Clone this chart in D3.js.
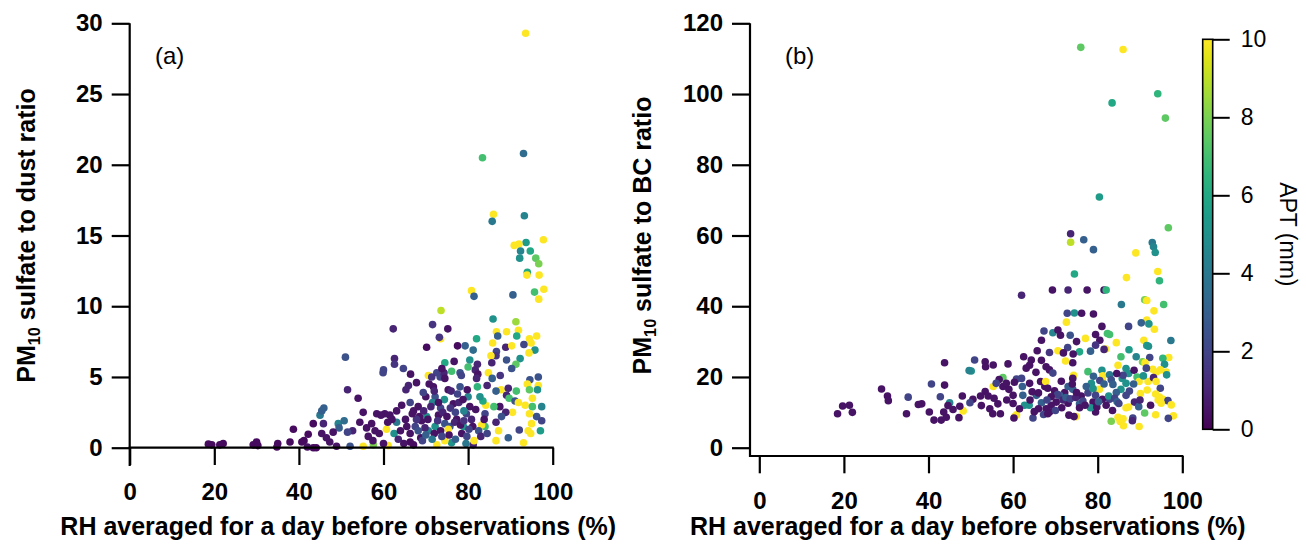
<!DOCTYPE html>
<html>
<head>
<meta charset="utf-8">
<script src="https://cdn.jsdelivr.net/npm/d3@7"></script>
<style>
  html, body { margin: 0; padding: 0; background: #fff; }
  svg { display: block; font-family: "Liberation Sans", Arial, sans-serif; }
</style>
</head>
<body>
<svg id="chart" width="1306" height="548"></svg>
<script>
// Panel (a): [RH (%), PM10 sulfate / dust ratio, APT (mm)]
const dustPoints = [
  [93.6,29.3,10],[93.1,20.8,3.5],[83.4,20.5,7],[86.0,16.5,10],[85.7,16.0,4],[93.3,16.4,4.5],
  [97.8,14.7,10],[93.7,14.5,5.5],[90.9,14.3,10],[92.0,14.4,10],[92.4,13.9,4.5],[94.7,13.9,6],
  [92.2,13.4,5],[96.0,13.4,7.5],[96.7,13.0,8],[94.0,12.4,6],[93.9,12.2,10],[96.8,12.2,10],
  [97.9,11.2,10],[95.7,11.0,7],[80.8,11.1,10],[81.4,10.7,3],[90.6,10.8,3],[96.7,10.5,10],
  [73.6,9.7,9],[85.9,9.1,5],[91.3,8.9,8.5],[62.3,8.4,1],[71.6,8.7,1.5],[75.2,8.4,0.5],
  [73.5,7.7,10],[73.2,7.8,1.5],[86.7,8.2,10],[89.1,8.2,10],[91.9,8.3,10],[87.0,7.9,3],
  [91.5,7.9,6],[96.2,7.9,10],[82.0,7.7,6],[85.8,7.4,10],[94.5,7.7,10],[94.9,7.4,10],
  [79.3,7.2,3],[77.5,7.2,0.3],[70.2,7.1,0.3],[81.2,6.9,3.5],[88.9,7.1,1],[90.3,7.2,10],
  [93.2,7.3,2],[95.8,6.9,5],[94.4,6.7,10],[86.7,6.8,2],[86.6,6.5,1.5],[85.4,6.5,10],
  [89.1,6.2,2.5],[92.3,6.3,5],[91.3,5.9,7.5],[90.3,5.6,2.5],[85.6,6.0,1],[82.2,5.9,1],
  [81.7,5.5,1],[80.0,5.7,7],[80.4,6.2,5],[78.1,5.3,2.5],[78.4,5.1,2],[82.3,5.2,0.5],
  [82.0,4.9,1],[76.1,5.4,7],[74.5,6.0,6],[76.7,6.1,0.5],[51.0,6.4,2.5],[62.6,6.3,1],
  [62.6,5.9,1.5],[60.0,5.5,2],[59.9,5.3,2],[64.7,5.6,2],[66.4,5.2,0.5],[67.8,4.6,0.5],
  [65.9,4.4,1],[65.3,4.1,1],[70.6,5.1,10],[72.6,5.3,2],[73.4,5.0,2],[74.3,5.3,1],
  [74.5,4.9,0.5],[73.8,5.6,0.5],[71.4,5.0,1.5],[84.8,5.3,10],[85.7,4.9,3],[87.6,5.1,1.5],
  [96.6,5.0,2.5],[94.6,4.8,2.5],[94.0,4.5,10],[96.6,4.4,10],[96.4,4.1,5],[94.5,4.1,7.5],
  [84.5,4.4,1],[87.8,4.1,10],[86.6,4.0,3],[89.5,4.2,1],[91.4,4.0,7],[89.1,3.7,1],
  [89.7,3.5,7],[91.1,3.3,2.5],[91.9,3.2,10],[93.5,3.0,10],[95.2,3.5,10],[97.4,2.9,4.5],
  [95.2,2.9,7],[90.5,2.5,10],[94.5,2.4,10],[96.2,2.2,2.5],[97.4,1.9,2],[95.0,1.7,10],
  [97.1,1.2,5.5],[94.2,1.2,10],[94.8,1.0,10],[93.1,0.35,10],[89.5,0.7,3],[92.1,1.25,2],
  [88.9,2.5,1],[87.9,2.2,2.5],[86.6,1.8,1],[86.6,0.5,10],[87.2,1.2,10],[87.5,2.9,0.5],
  [84.0,1.5,7],[84.2,3.0,10],[84.0,2.4,2],[86.1,2.9,7],[83.2,1.6,10],[83.5,3.3,6],
  [81.2,0.2,1],[81.4,0.5,10],[82.2,4.3,6.5],[82.8,3.6,5],[80.0,3.6,4.5],[78.1,4.3,2.5],
  [79.8,4.1,0.5],[80.4,2.9,0.5],[79.6,2.4,2],[79.0,2.6,4.5],[77.3,2.0,0.5],[75.7,1.5,2.5],
  [76.5,3.1,0.5],[74.4,3.4,5],[75.3,4.1,0.5],[71.8,4.3,0.5],[72.2,3.6,2.5],[71.6,3.2,4.5],
  [70.0,3.6,0.5],[69.4,3.9,2],[68.2,2.9,0.5],[67.1,2.6,0.5],[66.3,3.2,2],[64.3,3.0,0.5],
  [63.1,2.6,0.5],[61.5,2.3,0.5],[60.3,2.4,0.5],[58.4,2.4,0.5],[59.4,2.3,0.5],[63.1,1.8,4],
  [62.5,1.0,5],[60.7,1.3,10],[65.5,1.5,0.5],[66.3,1.0,0.5],[67.5,1.5,2],[68.2,1.2,2.5],
  [69.0,1.9,0.5],[70.2,2.2,5],[70.6,1.2,4.5],[72.2,1.5,5],[73.0,2.3,0.5],[73.5,2.8,2],
  [74.5,1.7,2.5],[75.3,1.3,10],[76.1,0.35,5],[72.6,0.2,10],[74.5,0.5,10],[78.5,1.0,0.5],
  [78.9,1.5,5],[79.7,0.8,2],[81.1,1.5,0.5],[67.1,0.2,0.3],[66.3,0.4,0.3],[57.6,0.2,8],
  [61.1,0.15,10],[55.2,0.1,10],[56.4,0.8,0.5],[56.0,1.4,0.5],[57.2,1.7,0.5],[54.4,1.8,0.5],
  [54.0,3.5,0.5],[55.2,2.5,0.5],[51.5,4.1,1],[52.7,1.2,1],[51.5,1.1,2],[52.1,0.1,2.5],
  [49.3,1.7,4.5],[49.5,1.4,3],[50.7,1.9,3.5],[48.1,1.1,0.5],[48.9,0.1,0.5],[47.3,0.4,0.5],
  [46.5,0.7,0.5],[45.4,1.0,0.5],[45.8,1.7,1],[45.0,2.3,4],[45.4,2.6,3],[45.9,2.8,3],
  [43.4,1.7,0.3],[42.2,0.95,0.3],[41.2,0.5,0.3],[40.7,0.4,0.3],[43.4,0.0,0.3],[44.1,0.0,0.3],
  [42.0,0.05,0.5],[38.7,1.3,0.3],[37.9,0.4,0.3],[35.0,0.3,0.3],[34.8,0.05,0.3],[30.0,0.4,0.3],
  [29.2,0.2,0.3],[30.3,0.15,0.3],[22.1,0.3,0.3],[21.3,0.2,0.3],[19.4,0.2,0.3],[18.6,0.25,0.3],
  [68.5,2.2,0.5],[69.5,2.6,1],[70.5,2.0,0.5],[71.2,2.9,1],[72.0,1.0,0.5],[72.8,1.9,1.5],
  [73.5,1.2,0.5],[74.0,2.5,1],[75.0,2.2,0.5],[75.8,2.8,1.5],[76.8,1.8,1],[77.0,2.5,2],
  [77.8,3.2,1],[78.2,1.6,0.5],[79.0,1.9,1.5],[80.2,1.3,2],[80.8,2.0,1],[81.8,2.7,0.5],
  [82.5,1.2,2.5],[83.0,0.8,1],[83.8,2.0,0.5],[84.5,1.0,2],[76.0,4.0,1],[77.5,3.8,2],
  [78.8,3.4,0.5],[73.0,3.2,0.5],[72.0,4.0,1],[70.8,4.5,0.5],[69.8,1.4,1],[68.8,0.7,0.5],
  [67.8,2.0,1.5],[66.8,2.4,0.5],[65.2,2.0,0.5],[64.0,1.2,0.5],[63.5,0.6,1],[62.0,2.0,0.5],
  [61.0,1.8,0.5],[59.0,1.0,0.5],[58.0,1.2,0.5],[57.5,0.5,0.5],[60.0,0.3,0.5],[64.8,0.3,0.5],
  [69.2,0.5,2],[70.0,0.9,3],[71.5,0.6,4],[73.8,0.8,2],[75.5,0.9,0.5],[77.0,0.6,3],[79.5,0.3,4]
];

// Panel (b): [RH (%), PM10 sulfate / BC ratio, APT (mm)]
const bcPoints = [
  [76.0,113.2,7.5],[86.0,112.6,10],[94.2,100.1,6.5],[83.4,97.5,6],[96.0,93.2,7.5],[80.4,70.9,5.5],
  [96.7,62.2,7.5],[73.6,60.5,1],[76.7,58.8,3],[73.6,58.1,9],[79.0,56.0,3],[92.9,58.0,4],
  [93.2,56.8,4.5],[93.6,55.2,5],[89.0,55.1,10],[94.2,49.8,10],[94.6,47.2,6.5],[74.5,49.1,6],
  [86.8,48.1,10],[62.0,43.1,1],[69.3,44.6,0.5],[73.0,44.6,1],[77.5,44.6,0.5],[81.5,44.6,0.5],
  [82.0,44.6,6.5],[95.6,40.5,7],[85.6,40.5,4],[91.1,41.8,8],[91.6,41.6,10],[93.3,38.7,10],
  [72.8,38.0,2],[74.5,38.1,5],[76.2,38.0,0.5],[79.0,37.8,0.5],[72.6,35.5,10],[91.6,36.1,10],
  [92.1,35.0,5],[90.3,35.3,3],[93.4,33.5,10],[87.3,34.3,2],[81.0,34.3,0.5],[67.3,33.0,2],
  [69.4,32.5,4.5],[70.6,33.3,0.5],[71.2,31.8,0.5],[73.5,31.8,2.5],[79.5,32.0,0.5],[82.3,32.3,7],
  [82.8,32.0,7],[84.4,29.7,10],[80.5,30.4,0.5],[66.7,30.4,0.5],[77.1,30.9,10],[90.9,30.4,10],
  [91.6,28.9,5.5],[92.0,28.7,5],[97.3,30.3,4],[79.5,29.0,1.5],[81.9,27.9,10],[81.5,27.8,1],
  [87.4,27.7,5.5],[65.7,27.4,0.5],[68.6,26.9,1.5],[72.9,28.3,2],[70.6,27.4,10],[71.9,26.8,0.5],
  [75.7,27.1,6],[74.2,26.5,0.5],[78.3,27.3,3],[89.1,25.7,4.5],[92.3,25.5,2],[85.5,25.7,7],
  [96.8,25.5,10],[95.4,25.3,6.5],[90.6,24.3,8],[91.2,24.0,10],[95.8,23.6,5],[62.5,25.7,0.5],
  [64.3,24.8,0.5],[43.8,24.0,0.5],[50.9,24.8,2],[53.4,24.3,0.5],[53.5,22.9,0.5],[55.3,23.4,0.5],
  [58.8,23.7,0.5],[50.1,21.7,5],[49.6,21.8,4.5],[63.9,23.3,0.5],[66.7,24.7,0.5],[67.8,22.9,0.5],
  [68.6,22.0,0.5],[65.4,21.3,0.5],[63.1,22.5,0.5],[69.4,21.1,2],[77.7,21.5,7],[74.1,24.0,0.5],
  [72.4,24.5,10],[74.3,20.5,10],[74.1,19.6,0.5],[79.0,20.2,3],[81.0,21.9,5],[81.1,19.3,10],
  [81.2,20.3,10],[82.8,20.6,4],[83.2,19.2,2.5],[84.8,23.3,10],[85.8,19.6,5],[86.7,22.4,5],
  [87.3,21.0,5],[88.6,21.9,0.5],[89.3,20.0,7],[89.8,18.7,10],[91.9,18.7,10],[91.7,16.3,10],
  [90.1,15.3,10],[93.0,22.2,10],[93.8,21.3,10],[94.8,22.0,10],[96.2,21.4,10],[96.3,20.6,5],
  [93.2,19.8,1],[93.8,18.7,10],[94.8,16.8,2],[93.7,15.2,10],[94.3,13.5,10],[94.6,14.3,10],
  [95.4,13.7,10],[96.6,13.3,2],[97.4,12.1,10],[95.0,12.6,10],[93.7,9.3,10],[97.9,9.0,10],
  [96.7,8.3,2],[91.1,9.8,7.5],[89.8,6.0,10],[86.0,8.2,10],[84.8,8.6,10],[86.1,6.2,10],
  [85.3,7.4,10],[83.2,7.5,8],[86.7,11.3,10],[87.3,11.5,10],[88.3,8.4,2],[88.2,7.6,1],
  [88.7,12.9,1],[89.7,11.6,3],[86.7,14.8,2],[86.7,18.2,5],[85.5,16.5,5],[84.4,15.6,3],
  [82.8,13.7,2],[80.4,16.5,10],[78.5,18.2,5],[77.7,15.5,2],[78.9,12.9,0.5],[79.5,10.1,0.5],
  [78.3,11.3,5],[74.9,8.8,10],[74.4,8.8,0.5],[75.7,12.4,3],[74.1,16.5,3],[72.2,15.6,0.5],
  [71.0,14.8,3],[70.2,12.9,0.5],[69.0,12.0,0.5],[68.6,10.1,0.5],[67.8,11.0,0.5],[66.7,12.7,3],
  [65.5,14.8,3],[64.7,8.4,2],[66.0,11.0,0.5],[63.8,12.0,5],[62.7,12.0,5],[62.3,14.8,3],
  [60.8,9.3,10],[60.4,8.8,10],[60.2,8.4,0.5],[60.0,14.8,0.5],[59.0,16.5,0.5],[57.6,19.8,7.5],
  [56.7,19.3,0.5],[55.3,17.3,10],[57.6,17.3,0.5],[58.4,18.2,0.5],[56.0,18.2,2],[53.4,15.9,0.5],
  [52.3,14.6,0.5],[54.1,14.6,0.5],[56.4,12.4,0.5],[57.0,9.6,0.5],[55.2,9.6,0.5],[52.5,11.9,0.5],
  [50.5,13.7,0.5],[49.8,12.7,2],[48.0,14.6,0.5],[47.2,8.5,0.5],[48.2,10.4,10],[47.4,11.7,0.5],
  [45.8,10.8,0.5],[45.0,12.7,4.5],[44.6,11.9,0.5],[43.6,10.1,0.5],[43.0,7.8,0.5],[44.2,8.6,0.5],
  [41.3,7.8,0.5],[40.2,10.1,0.5],[42.8,14.4,2],[40.7,18.0,2],[43.8,17.7,0.5],[38.4,12.4,0.5],
  [37.6,12.2,0.5],[35.2,14.3,2],[34.8,9.6,0.5],[30.3,14.6,0.5],[30.5,13.3,0.5],[28.9,16.6,0.5],
  [19.7,11.8,0.5],[21.3,12.0,0.5],[18.5,9.6,0.5],[22.0,10.0,0.5],
  [60.8,19.4,2],[62.0,19.6,2],[62.2,17.3,3],[60.3,18.5,0.5],[63.9,18.2,0.5],[66.5,18.7,0.5],
  [67.5,17.3,0.5],[67.7,18.7,10],[68.2,16.8,0.5],[69.8,16.1,0.5],[71.4,18.8,0.5],[73.0,17.3,3],
  [74.0,18.0,0.5],[76.1,14.6,0.5],[77.3,17.3,3],[75.7,11.3,0.5],[73.0,12.6,0.5],[71.5,11.3,0.5],
  [70.0,10.5,2],[67.2,9.4,2],[68.2,9.6,0.5],[73.2,9.2,0.5],[79.8,11.5,0.5],[81.1,13.7,0.5],
  [82.0,12.0,0.5],[82.6,14.6,5],[78.9,16.7,5],[80.5,19.0,2],[81.5,18.0,3],[83.6,17.9,3],
  [84.0,14.0,2],[84.6,13.0,3],[70.5,15.0,2],[71.8,13.5,1],[72.5,14.2,3],[73.5,13.8,2],
  [74.8,14.2,1],[76.5,13.2,2],[77.0,12.0,0.5],[75.0,15.6,0.5],[69.0,14.4,0.5],[68.0,13.5,2],
  [66.0,15.5,0.5],[64.5,15.8,0.5],[64.0,13.5,0.5],[65.0,10.2,0.5],[61.5,11.0,0.5],[60.0,12.5,0.5],
  [58.5,13.5,0.5],[55.5,14.0,0.5],[54.5,11.0,0.5],[79.5,14.8,2],[80.2,13.0,3],[85.0,12.5,2],
  [83.5,10.5,0.5],[86.0,20.5,2],[84.5,21.0,0.5],[87.5,16.0,2],[88.5,18.0,3],[90.8,20.3,5],
  [91.5,22.5,2],[90.0,13.5,1],[92.5,12.0,0.5],[75.0,30.0,0.5]
];

const rhTicks = [0, 20, 40, 60, 80, 100];
const dustTicks = [0, 5, 10, 15, 20, 25, 30];
const bcTicks = [0, 20, 40, 60, 80, 100, 120];
const aptTicks = [0, 2, 4, 6, 8, 10];

const xTitle = "RH averaged for a day before observations (%)";
const panelLabels = ["(a)", "(b)"];

const svg = d3.select("#chart");
const color = d3.scaleSequential(d3.interpolateViridis).domain([0, 10]).clamp(true);

const TICK_FONT = 24, TITLE_FONT = 25, R = 3.8;

function panel(opts) {
  const { x, y, pts, yTicks, yTitleText, yTitleX, detached, label, labelX } = opts;
  const g = svg.append("g");
  const y0 = y.range()[0];
  const xAxisY = detached ? y0 + 8.3 : y0;
  const yAxisX = detached ? x.range()[0] - 9.3 : x.range()[0];

  // scatter marks, coloured by APT
  g.append("g").selectAll("circle").data(pts).join("circle")
    .attr("cx", d => x(d[0])).attr("cy", d => y(d[1])).attr("r", R)
    .attr("fill", d => color(d[2]));

  // y axis
  const ya = g.append("g").attr("transform", `translate(${yAxisX},0)`)
    .call(d3.axisLeft(y).tickValues(yTicks).tickSize(18).tickSizeOuter(0).tickPadding(9));
  ya.select(".domain").remove();
  // x axis
  const xa = g.append("g").attr("transform", `translate(0,${xAxisY})`)
    .call(d3.axisBottom(x).tickValues(rhTicks).tickSize(17.3).tickSizeOuter(0).tickPadding(detached ? 19 : 18));
  xa.select(".domain").remove();
  [ya, xa].forEach(a => {
    a.selectAll("line").attr("stroke", "#000").attr("stroke-width", 2.2);
    a.selectAll("text").attr("font-size", TICK_FONT).attr("font-weight", "bold").attr("fill", "#000")
      .attr("font-family", "'Liberation Sans', Arial, sans-serif");
  });

  // spines
  const yBottom = detached ? xAxisY : y0 + 17.3;
  g.append("line").attr("x1", yAxisX).attr("x2", yAxisX)
    .attr("y1", y.range()[1]).attr("y2", yBottom + 1)
    .attr("stroke", "#000").attr("stroke-width", 2.2);
  g.append("line").attr("x1", yAxisX - 1).attr("x2", x.range()[1] + 1.1)
    .attr("y1", xAxisY).attr("y2", xAxisY)
    .attr("stroke", "#000").attr("stroke-width", 2.2);

  // axis titles
  g.append("text").attr("x", (x.range()[0] + x.range()[1]) / 2 - 3).attr("y", 535)
    .attr("text-anchor", "middle").attr("font-size", TITLE_FONT).attr("font-weight", "bold")
    .text(xTitle);
  const yt = g.append("text")
    .attr("transform", `translate(${yTitleX},${(y.range()[0] + y.range()[1]) / 2}) rotate(-90)`)
    .attr("text-anchor", "middle").attr("dy", "0.35em")
    .attr("font-size", TITLE_FONT).attr("font-weight", "bold");
  yt.append("tspan").text("PM");
  yt.append("tspan").attr("font-size", TITLE_FONT * 0.65).attr("dy", "0.35em").text("10");
  yt.append("tspan").attr("dy", "-0.23em").text(" " + yTitleText);

  g.append("text").attr("x", labelX).attr("y", 56).attr("dy", "0.35em")
    .attr("font-size", 24).text(label);
}

const xA = d3.scaleLinear().domain([0, 100]).range([129.7, 552.7]);
const yA = d3.scaleLinear().domain([0, 30]).range([447.7, 23.3]);
const xB = d3.scaleLinear().domain([0, 100]).range([759.3, 1182.3]);
const yB = d3.scaleLinear().domain([0, 120]).range([447.7, 23.3]);

panel({ x: xA, y: yA, pts: dustPoints, yTicks: dustTicks, yTitleText: "sulfate to dust ratio",
        yTitleX: 26, detached: false, label: panelLabels[0], labelX: 155 });
panel({ x: xB, y: yB, pts: bcPoints, yTicks: bcTicks, yTitleText: "sulfate to BC ratio",
        yTitleX: 642, detached: true, label: panelLabels[1], labelX: 785 });

// colour bar
const cbX = 1202.7, cbW = 10;
const cbScale = d3.scaleLinear().domain([0, 10]).range([429.3, 39.3]);
const defs = svg.append("defs");
const grad = defs.append("linearGradient").attr("id", "aptGrad")
  .attr("x1", 0).attr("x2", 0).attr("y1", 1).attr("y2", 0);
d3.range(0, 1.0001, 0.05).forEach(t => {
  grad.append("stop").attr("offset", t).attr("stop-color", d3.interpolateViridis(t));
});
svg.append("rect").attr("x", cbX).attr("y", cbScale(10)).attr("width", cbW)
  .attr("height", cbScale(0) - cbScale(10)).attr("fill", "url(#aptGrad)")
  .attr("stroke", "#000").attr("stroke-width", 1.6);
const cba = svg.append("g").attr("transform", `translate(${cbX + cbW},0)`)
  .call(d3.axisRight(cbScale).tickValues(aptTicks).tickSize(17).tickSizeOuter(0).tickPadding(11));
cba.select(".domain").remove();
cba.selectAll("line").attr("stroke", "#000").attr("stroke-width", 2);
cba.selectAll("text").attr("font-size", 23).attr("fill", "#000")
  .attr("font-family", "'Liberation Sans', Arial, sans-serif");
svg.append("text").attr("transform", `translate(1288,${cbScale(5)}) rotate(90)`)
  .attr("text-anchor", "middle").attr("dy", "0.35em").attr("font-size", 23)
  .text("APT (mm)");
</script>
</body>
</html>
